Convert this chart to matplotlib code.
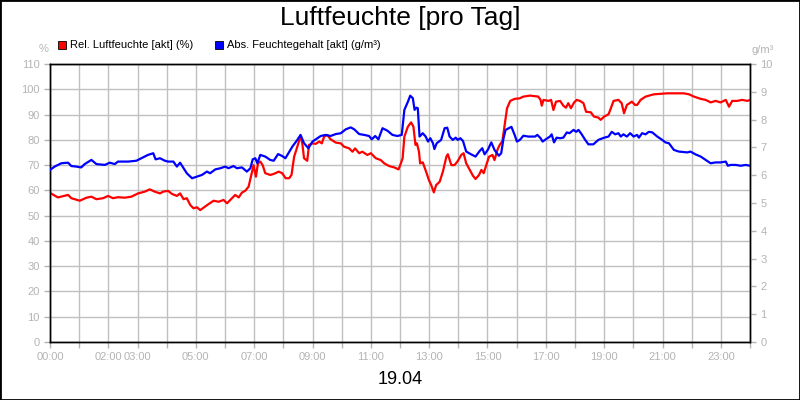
import matplotlib
matplotlib.use("Agg")
import matplotlib.pyplot as plt
from matplotlib.patches import Rectangle

plt.rcParams['font.family'] = ['Liberation Sans', 'DejaVu Sans']

# relative humidity (%) over the day, hour of day
rel_hours = [0.00, 0.27, 0.62, 0.73, 1.02, 1.25, 1.42, 1.59, 1.82, 1.99, 2.16, 2.33, 2.56, 2.79,
             3.02, 3.25, 3.42, 3.59, 3.77, 3.88, 4.05, 4.18, 4.35, 4.46, 4.58, 4.69, 4.81, 4.92,
             5.04, 5.15, 5.26, 5.44, 5.61, 5.78, 5.95, 6.07, 6.24, 6.35, 6.47, 6.58, 6.70, 6.81,
             6.90, 6.98, 7.06, 7.13, 7.21, 7.29, 7.38, 7.55, 7.67, 7.84, 7.96, 8.08, 8.20, 8.28,
             8.37, 8.48, 8.59, 8.65, 8.71, 8.82, 8.88, 9.00, 9.11, 9.23, 9.32, 9.40, 9.51, 9.62,
             9.80, 9.97, 10.08, 10.26, 10.37, 10.46, 10.60, 10.71, 10.88, 11.00, 11.17, 11.34,
             11.46, 11.63, 11.80, 11.95, 12.03, 12.09, 12.15, 12.27, 12.38, 12.46, 12.53, 12.58,
             12.65, 12.69, 12.78, 12.90, 12.99, 13.07, 13.16, 13.24, 13.36, 13.47, 13.59, 13.64,
             13.76, 13.87, 13.98, 14.10, 14.18, 14.27, 14.39, 14.50, 14.59, 14.71, 14.79, 14.87,
             14.96, 15.05, 15.17, 15.24, 15.34, 15.42, 15.51, 15.59, 15.67, 15.78, 15.93, 16.10,
             16.23, 16.46, 16.74, 16.82, 16.86, 16.92, 17.09, 17.18, 17.26, 17.35, 17.49, 17.60,
             17.69, 17.77, 17.86, 17.97, 18.06, 18.17, 18.29, 18.38, 18.54, 18.65, 18.80, 18.88,
             19.00, 19.15, 19.23, 19.32, 19.49, 19.60, 19.68, 19.78, 19.95, 20.06, 20.13, 20.25,
             20.42, 20.70, 21.16, 21.73, 21.91, 22.08, 22.31, 22.48, 22.65, 22.82, 22.99, 23.17,
             23.28, 23.39, 23.56, 23.73, 23.91, 24.00]
rel_values = [59.0, 57.2, 58.2, 56.9, 55.9, 57.1, 57.5, 56.5, 56.9, 57.8, 56.9, 57.3, 57.1, 57.5,
              58.8, 59.5, 60.4, 59.5, 58.8, 59.5, 59.8, 58.6, 57.8, 58.8, 56.5, 56.9, 54.2, 52.9,
              53.3, 52.2, 53.1, 54.6, 55.9, 55.5, 56.2, 54.9, 56.9, 58.2, 57.2, 59.1, 59.9, 61.5,
              66.1, 70.0, 65.4, 70.7, 71.4, 70.0, 66.8, 66.1, 66.5, 67.4, 66.8, 64.8, 64.8, 66.1,
              73.3, 77.3, 81.5, 78.6, 72.7, 71.7, 78.0, 78.6, 78.4, 79.3, 78.6, 81.3, 81.9, 80.2,
              78.9, 78.6, 77.3, 76.6, 75.3, 76.6, 74.7, 75.3, 74.0, 74.7, 72.7, 72.0,
              70.7, 69.6, 69.1, 68.3, 70.7, 72.7, 81.3, 85.2, 86.9, 85.2, 78.0, 78.6,
              75.3, 70.7, 71.1, 67.2, 64.1, 62.1, 59.2, 62.1, 63.4, 67.4, 73.3, 74.3,
              70.0, 70.0, 71.6, 74.0, 74.7, 70.7, 68.1, 65.8, 64.5, 66.1, 68.1, 66.8,
              70.0, 73.3, 74.0, 72.0, 76.0, 78.0, 79.5, 85.9, 92.5, 95.4, 96.2, 96.4,
              97.1, 97.5, 97.1, 95.8, 93.5, 95.8, 95.4, 95.8, 91.8, 95.1, 95.4, 93.5,
              92.7, 94.5, 92.5, 94.8, 95.8, 95.4, 94.5, 91.1, 90.9, 89.2, 88.8, 87.9,
              89.2, 90.1, 92.5, 95.4, 95.8, 94.5, 90.5, 93.8, 95.1, 93.8, 93.8, 95.8,
              97.1, 98.0, 98.4, 98.4, 98.0, 97.1, 96.2, 95.8, 94.8, 95.4, 94.8, 95.8,
              93.1, 95.4, 95.4, 95.8, 95.4, 95.8]

# absolute moisture content (g/m3)
abs_hours = [0.00, 0.16, 0.39, 0.62, 0.73, 0.90, 1.07, 1.19, 1.42, 1.59, 1.88, 2.05, 2.22, 2.33,
             2.68, 2.96, 3.13, 3.36, 3.54, 3.62, 3.77, 3.94, 4.05, 4.23, 4.35, 4.46, 4.58, 4.69,
             4.87, 5.04, 5.21, 5.38, 5.49, 5.67, 5.84, 6.01, 6.12, 6.29, 6.41, 6.58, 6.75, 6.87,
             6.95, 7.04, 7.11, 7.21, 7.38, 7.55, 7.67, 7.82, 7.96, 8.07, 8.14, 8.31, 8.48, 8.59,
             8.71, 8.86, 9.00, 9.17, 9.28, 9.45, 9.62, 9.80, 9.97, 10.14, 10.31, 10.43, 10.60,
             10.77, 10.94, 11.03, 11.15, 11.26, 11.40, 11.57, 11.74, 11.91, 12.06, 12.15, 12.27,
             12.35, 12.44, 12.50, 12.56, 12.61, 12.67, 12.78, 12.88, 12.96, 13.04, 13.13, 13.18,
             13.26, 13.41, 13.53, 13.62, 13.70, 13.81, 13.91, 13.98, 14.07, 14.16, 14.27, 14.44,
             14.59, 14.73, 14.82, 14.90, 15.01, 15.13, 15.24, 15.39, 15.47, 15.55, 15.62, 15.82,
             15.93, 16.01, 16.11, 16.23, 16.40, 16.63, 16.71, 16.82, 16.89, 17.01, 17.14, 17.20,
             17.28, 17.37, 17.49, 17.60, 17.72, 17.81, 17.95, 18.04, 18.12, 18.23, 18.35, 18.46,
             18.63, 18.80, 19.00, 19.15, 19.26, 19.38, 19.49, 19.57, 19.66, 19.78, 19.89, 20.01,
             20.13, 20.19, 20.30, 20.42, 20.53, 20.65, 20.82, 20.99, 21.10, 21.22, 21.39, 21.56,
             21.85, 21.96, 22.13, 22.31, 22.48, 22.65, 22.82, 22.99, 23.17, 23.24, 23.34, 23.51,
             23.68, 23.85, 24.00]
abs_values = [6.19, 6.31, 6.43, 6.45, 6.33, 6.31, 6.28, 6.40, 6.55, 6.40, 6.37, 6.45, 6.40, 6.49,
              6.49, 6.52, 6.61, 6.73, 6.79, 6.57, 6.61, 6.52, 6.49, 6.49, 6.31, 6.45, 6.25, 6.07,
              5.89, 5.95, 6.01, 6.13, 6.07, 6.21, 6.25, 6.31, 6.25, 6.33, 6.25, 6.28, 6.13, 6.25,
              6.57, 6.61, 6.43, 6.73, 6.67, 6.55, 6.52, 6.76, 6.69, 6.61, 6.73, 7.03, 7.27, 7.45,
              7.15, 6.97, 7.21, 7.33, 7.41, 7.45, 7.41, 7.48, 7.51, 7.65, 7.72, 7.65, 7.48,
              7.45, 7.41, 7.29, 7.41, 7.29, 7.69, 7.60, 7.45, 7.41, 7.45, 8.35, 8.64,
              8.86, 8.77, 8.35, 8.43, 8.41, 7.39, 7.51, 7.39, 7.21, 7.33, 7.15, 6.94,
              7.15, 7.27, 7.69, 7.71, 7.39, 7.27, 7.35, 7.27, 7.33, 7.23, 6.85, 6.75,
              6.67, 6.87, 6.97, 6.75, 6.91, 7.18, 6.91, 6.70, 6.79, 7.33, 7.63, 7.74,
              7.45, 7.21, 7.27, 7.42, 7.39, 7.39, 7.45, 7.33, 7.21, 7.30, 7.39, 7.47,
              7.18, 7.35, 7.33, 7.35, 7.54, 7.51, 7.63, 7.56, 7.63, 7.47, 7.27, 7.11,
              7.11, 7.27, 7.35, 7.39, 7.56, 7.47, 7.51, 7.39, 7.47, 7.39, 7.51, 7.39,
              7.45, 7.35, 7.51, 7.47, 7.56, 7.54, 7.39, 7.27, 7.18, 7.15, 6.91, 6.85,
              6.82, 6.85, 6.75, 6.67, 6.55, 6.43, 6.46, 6.46, 6.49, 6.34, 6.37, 6.37,
              6.34, 6.37, 6.34]

tick_hours = [0, 2, 3, 5, 7, 9, 11, 13, 15, 17, 19, 21, 23]
tick_labels = ['%02d:00' % h for h in tick_hours]

gray = '#b4b4b4'
grid = '#c0c0c0'

fig = plt.figure(figsize=(8, 4), dpi=100)
ax = fig.add_axes([0.0625, 0.145, 0.875, 0.695])

ax.set_xlim(0, 24)
ax.set_ylim(0, 110)
ax.set_yticks(range(0, 111, 10))
ax.set_xticks(range(0, 25), minor=True)
ax.set_xticks(tick_hours)
ax.set_xticklabels(tick_labels)
ax.grid(True, which='both', axis='x', color=grid, lw=1)
ax.grid(True, axis='y', color=grid, lw=1)
ax.set_axisbelow(True)
ax.tick_params(axis='both', which='both', colors=gray, labelsize=8, length=4, width=1,
               labelcolor=gray)
for s in ax.spines.values():
    s.set_color('black')
    s.set_linewidth(1)

ax2 = ax.twinx()
ax2.set_ylim(0, 10)
ax2.set_yticks(range(0, 11))
ax2.tick_params(axis='y', colors=gray, labelsize=8, length=4, width=1, labelcolor=gray)
for s in ax2.spines.values():
    s.set_color('black')
    s.set_linewidth(1)

ax.plot(rel_hours, rel_values, color='#ff0000', lw=1.6, zorder=3)
ax2.plot(abs_hours, abs_values, color='#0000ff', lw=1.6, zorder=3)

fig.text(0.5, 0.955, 'Luftfeuchte [pro Tag]', ha='center', va='center', fontsize=19)
fig.text(0.5, 0.05, '19.04', ha='center', va='center', fontsize=13)
fig.text(43.5 / 800, 1 - 49 / 400, '%', ha='center', va='center', fontsize=8, color=gray)
fig.text(763 / 800, 1 - 50 / 400, 'g/m³', ha='center', va='center', fontsize=8, color=gray)

# legend
fig.add_artist(Rectangle((58 / 800, 1 - 49 / 400), 8 / 800, 8 / 400, transform=fig.transFigure,
                         facecolor='#ff0000', edgecolor='black', lw=0.6))
fig.text(70 / 800, 1 - 45 / 400, 'Rel. Luftfeuchte [akt] (%)', va='center', fontsize=8)
fig.add_artist(Rectangle((215 / 800, 1 - 49 / 400), 8 / 800, 8 / 400, transform=fig.transFigure,
                         facecolor='#0000ff', edgecolor='black', lw=0.6))
fig.text(227 / 800, 1 - 45 / 400, 'Abs. Feuchtegehalt [akt] (g/m³)', va='center', fontsize=8)

# frame round the whole picture
fig.add_artist(Rectangle((0, 0), 1, 1, transform=fig.transFigure, fill=False,
                         edgecolor='black', lw=2))

fig.savefig('out.png', dpi=100)
